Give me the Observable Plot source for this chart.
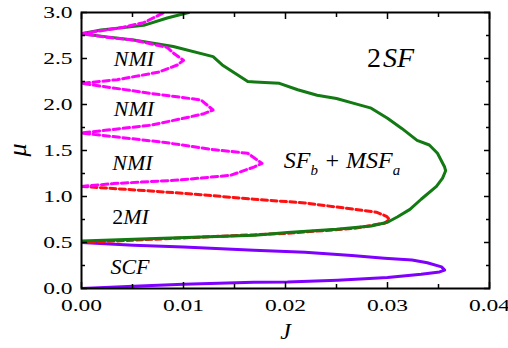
<!DOCTYPE html>
<html>
<head>
<meta charset="utf-8">
<script src="https://cdn.jsdelivr.net/npm/d3@7"></script>
<script src="https://cdn.jsdelivr.net/npm/@observablehq/plot@0.6"></script>
<style>
  html, body { margin: 0; padding: 0; background: #fff; }
  #chart { width: 508px; height: 348px; }
  #chart svg text, #chart svg tspan { font-family: "Liberation Serif", Tinos, "Times New Roman", Times, "Nimbus Roman", FreeSerif, "Noto Serif", "DejaVu Serif", serif !important; }
</style>
</head>
<body>
<div id="chart"></div>
<script>
// ---- axis ticks ----
const xMajor = [0, 0.01, 0.02, 0.03, 0.04];
const xMinor = [0.005, 0.015, 0.025, 0.035];
const yMajor = [0, 0.5, 1.0, 1.5, 2.0, 2.5, 3.0];
const yMinor = [0.25, 0.75, 1.25, 1.75, 2.25, 2.75];

// ---- green solid boundary (2SF / SF_b+MSF_a) ----
const greenJ  = [0.0105, 0.0084, 0.0061, 0.0019, 0.0, 0.0025, 0.0051, 0.0090, 0.0129, 0.0138, 0.0149, 0.0163, 0.0170, 0.0194, 0.0212, 0.0231, 0.0250, 0.0268, 0.0284, 0.0300, 0.0314, 0.0329, 0.0341, 0.0349, 0.0356, 0.0357, 0.0354, 0.0348, 0.0333, 0.0322, 0.0310, 0.0300, 0.0284, 0.0250, 0.0202, 0.0170, 0.0080, 0.0];
const greenMu = [3.00, 2.94, 2.86, 2.81, 2.77, 2.735, 2.70, 2.63, 2.52, 2.43, 2.35, 2.25, 2.245, 2.23, 2.16, 2.10, 2.065, 2.01, 1.96, 1.85, 1.74, 1.61, 1.56, 1.47, 1.32, 1.28, 1.20, 1.11, 0.97, 0.86, 0.78, 0.72, 0.68, 0.645, 0.61, 0.58, 0.547, 0.515];

// ---- magenta dashed lobes (NMI) ----
const magJ  = [0.0, 0.0031, 0.0097, 0.0146, 0.0169, 0.0177, 0.0163, 0.0129, 0.0080, 0.0040, 0.0,
               0.0068, 0.0100, 0.0120, 0.0129, 0.0117, 0.0068, 0.0019, 0.0,
               0.0035, 0.0075, 0.0094, 0.0100, 0.0090, 0.0084, 0.0051, 0.0025, 0.0,
               0.0041, 0.0061, 0.0081];
const magMu = [1.11, 1.14, 1.18, 1.23, 1.32, 1.36, 1.47, 1.51, 1.59, 1.64, 1.69,
               1.775, 1.85, 1.90, 1.94, 2.05, 2.12, 2.20, 2.23,
               2.27, 2.35, 2.43, 2.48, 2.56, 2.62, 2.70, 2.73, 2.77,
               2.84, 2.89, 3.00];

// ---- red dashed boundary (2MI) ----
const redJ  = [0.0, 0.0068, 0.0117, 0.0169, 0.0219, 0.0268, 0.0289, 0.0299, 0.0302, 0.0297, 0.0268, 0.0202, 0.0100, 0.0050, 0.0];
const redMu = [1.11, 1.06, 1.02, 0.97, 0.93, 0.86, 0.83, 0.785, 0.75, 0.71, 0.655, 0.60, 0.55, 0.525, 0.50];

// ---- purple solid boundary (SCF) ----
const purJ  = [0.0, 0.0051, 0.0100, 0.0169, 0.0219, 0.0265, 0.0297, 0.0324, 0.0339, 0.0353, 0.0356, 0.0351, 0.0333, 0.0300, 0.0251, 0.0202, 0.0169, 0.0100, 0.0051, 0.0];
const purMu = [0.50, 0.47, 0.45, 0.416, 0.395, 0.36, 0.33, 0.31, 0.28, 0.235, 0.20, 0.18, 0.155, 0.12, 0.09, 0.07, 0.068, 0.047, 0.025, 0.0];

// ---- region labels ----
const labelText = ["NMI", "NMI", "NMI", "2MI", "SCF", "2SF", "SF_b + MSF_a"];
const labelJ    = [0.00515, 0.00515, 0.0050, 0.0048, 0.00475, 0.0303, 0.02554];
const labelMu   = [2.49, 1.95, 1.37, 0.78, 0.23, 2.51, 1.39];
const labelSize = [22, 22, 22, 22, 22, 28, 24];

const toRows = (xs, ys) => xs.map((x, i) => ({J: x, mu: ys[i]}));
const green = toRows(greenJ, greenMu);
const mag = toRows(magJ, magMu);
const red = toRows(redJ, redMu);
const pur = toRows(purJ, purMu);
const labels = labelText.map((t, i) => ({t, J: labelJ[i], mu: labelMu[i], s: labelSize[i]}));

const serif = "Liberation Serif, Tinos, Times New Roman, Times, Nimbus Roman, FreeSerif, Noto Serif, DejaVu Serif, serif";
const blank = () => "";

const chart = Plot.plot({
  width: 508,
  height: 348,
  marginLeft: 81,
  marginRight: 19,
  marginTop: 12,
  marginBottom: 60,
  x: {domain: [0, 0.04]},
  y: {domain: [0, 3]},
  style: {fontSize: "17px", color: "black", background: "white", overflow: "visible"},
  marks: [
    Plot.line(pur, {x: "J", y: "mu", stroke: "#8000ff", strokeWidth: 3, clip: true}),
    Plot.line(red, {x: "J", y: "mu", stroke: "#ff1010", strokeWidth: 3, strokeDasharray: "6,3.5", clip: true}),
    Plot.line(green, {x: "J", y: "mu", stroke: "#137a13", strokeWidth: 3, clip: true}),
    Plot.line(mag, {x: "J", y: "mu", stroke: "#ff00ff", strokeWidth: 3, strokeDasharray: "6.5,3.5", clip: true}),
    Plot.text(labels, {x: "J", y: "mu", text: "t", fontSize: "s", fontStyle: "italic", fontFamily: serif, fill: "black"}),
    Plot.frame({stroke: "black", strokeWidth: 2}),
    Plot.axisX({ticks: xMajor, tickSize: -6, tickPadding: 16, tickFormat: d3.format(".2f"), label: null, strokeWidth: 1.5}),
    Plot.axisX({ticks: xMinor, tickSize: -4, tickFormat: blank, label: null, strokeWidth: 1.5}),
    Plot.axisX({anchor: "top", ticks: xMajor, tickSize: -6, tickFormat: blank, label: null, strokeWidth: 1.5}),
    Plot.axisX({anchor: "top", ticks: xMinor, tickSize: -4, tickFormat: blank, label: null, strokeWidth: 1.5}),
    Plot.axisY({ticks: yMajor, tickSize: -6, tickPadding: 15, tickFormat: d3.format(".1f"), label: null, strokeWidth: 1.5}),
    Plot.axisY({ticks: yMinor, tickSize: -4, tickFormat: blank, label: null, strokeWidth: 1.5}),
    Plot.axisY({anchor: "right", ticks: yMajor, tickSize: -6, tickFormat: blank, label: null, strokeWidth: 1.5}),
    Plot.axisY({anchor: "right", ticks: yMinor, tickSize: -4, tickFormat: blank, label: null, strokeWidth: 1.5}),
    Plot.text(["μ"], {frameAnchor: "left", lineAnchor: "middle", dx: -64, dy: 6, rotate: -90, fontSize: 26, fontStyle: "italic", fontFamily: serif}),
    Plot.text(["J"], {frameAnchor: "bottom", lineAnchor: "middle", dy: 43, fontSize: 24, fontStyle: "italic", fontFamily: serif})
  ]
});

document.getElementById("chart").appendChild(chart);
d3.select(chart).selectAll("text").attr("font-family", serif);

// stretch tick labels horizontally like the original typesetting
d3.select(chart).selectAll('g[aria-label="x-axis tick label"] text, g[aria-label="y-axis tick label"] text').each(function() {
  if (!this.textContent) return;
  const len = this.getComputedTextLength();
  this.setAttribute("textLength", (len * 1.38).toFixed(1));
  this.setAttribute("lengthAdjust", "spacingAndGlyphs");
});

// subscripts and upright digits in region labels
const SVGNS = "http://www.w3.org/2000/svg";
d3.select(chart).selectAll("text").each(function() {
  const s = this.textContent;
  if (!/_|^[0-9]+[A-Za-z]/.test(s)) return;
  const fs = parseFloat(this.getAttribute("font-size")) || 24;
  this.textContent = "";
  const parts = s.match(/_[a-z]|[0-9]+|[^_0-9]+/g);
  let lowered = false;
  for (const p of parts) {
    const t = document.createElementNS(SVGNS, "tspan");
    if (p[0] === "_") {
      t.textContent = p.slice(1);
      t.setAttribute("font-size", (fs * 0.62).toFixed(1));
      t.setAttribute("dy", (fs * 0.28).toFixed(1));
      lowered = true;
    } else {
      t.textContent = p;
      if (lowered) { t.setAttribute("dy", (-fs * 0.28).toFixed(1)); lowered = false; }
      if (/^[0-9]+$/.test(p)) t.setAttribute("font-style", "normal");
      else if (/^[0-9]/.test(s) && fs > 25) t.setAttribute("dx", "2");
    }
    this.appendChild(t);
  }
});
</script>
</body>
</html>
